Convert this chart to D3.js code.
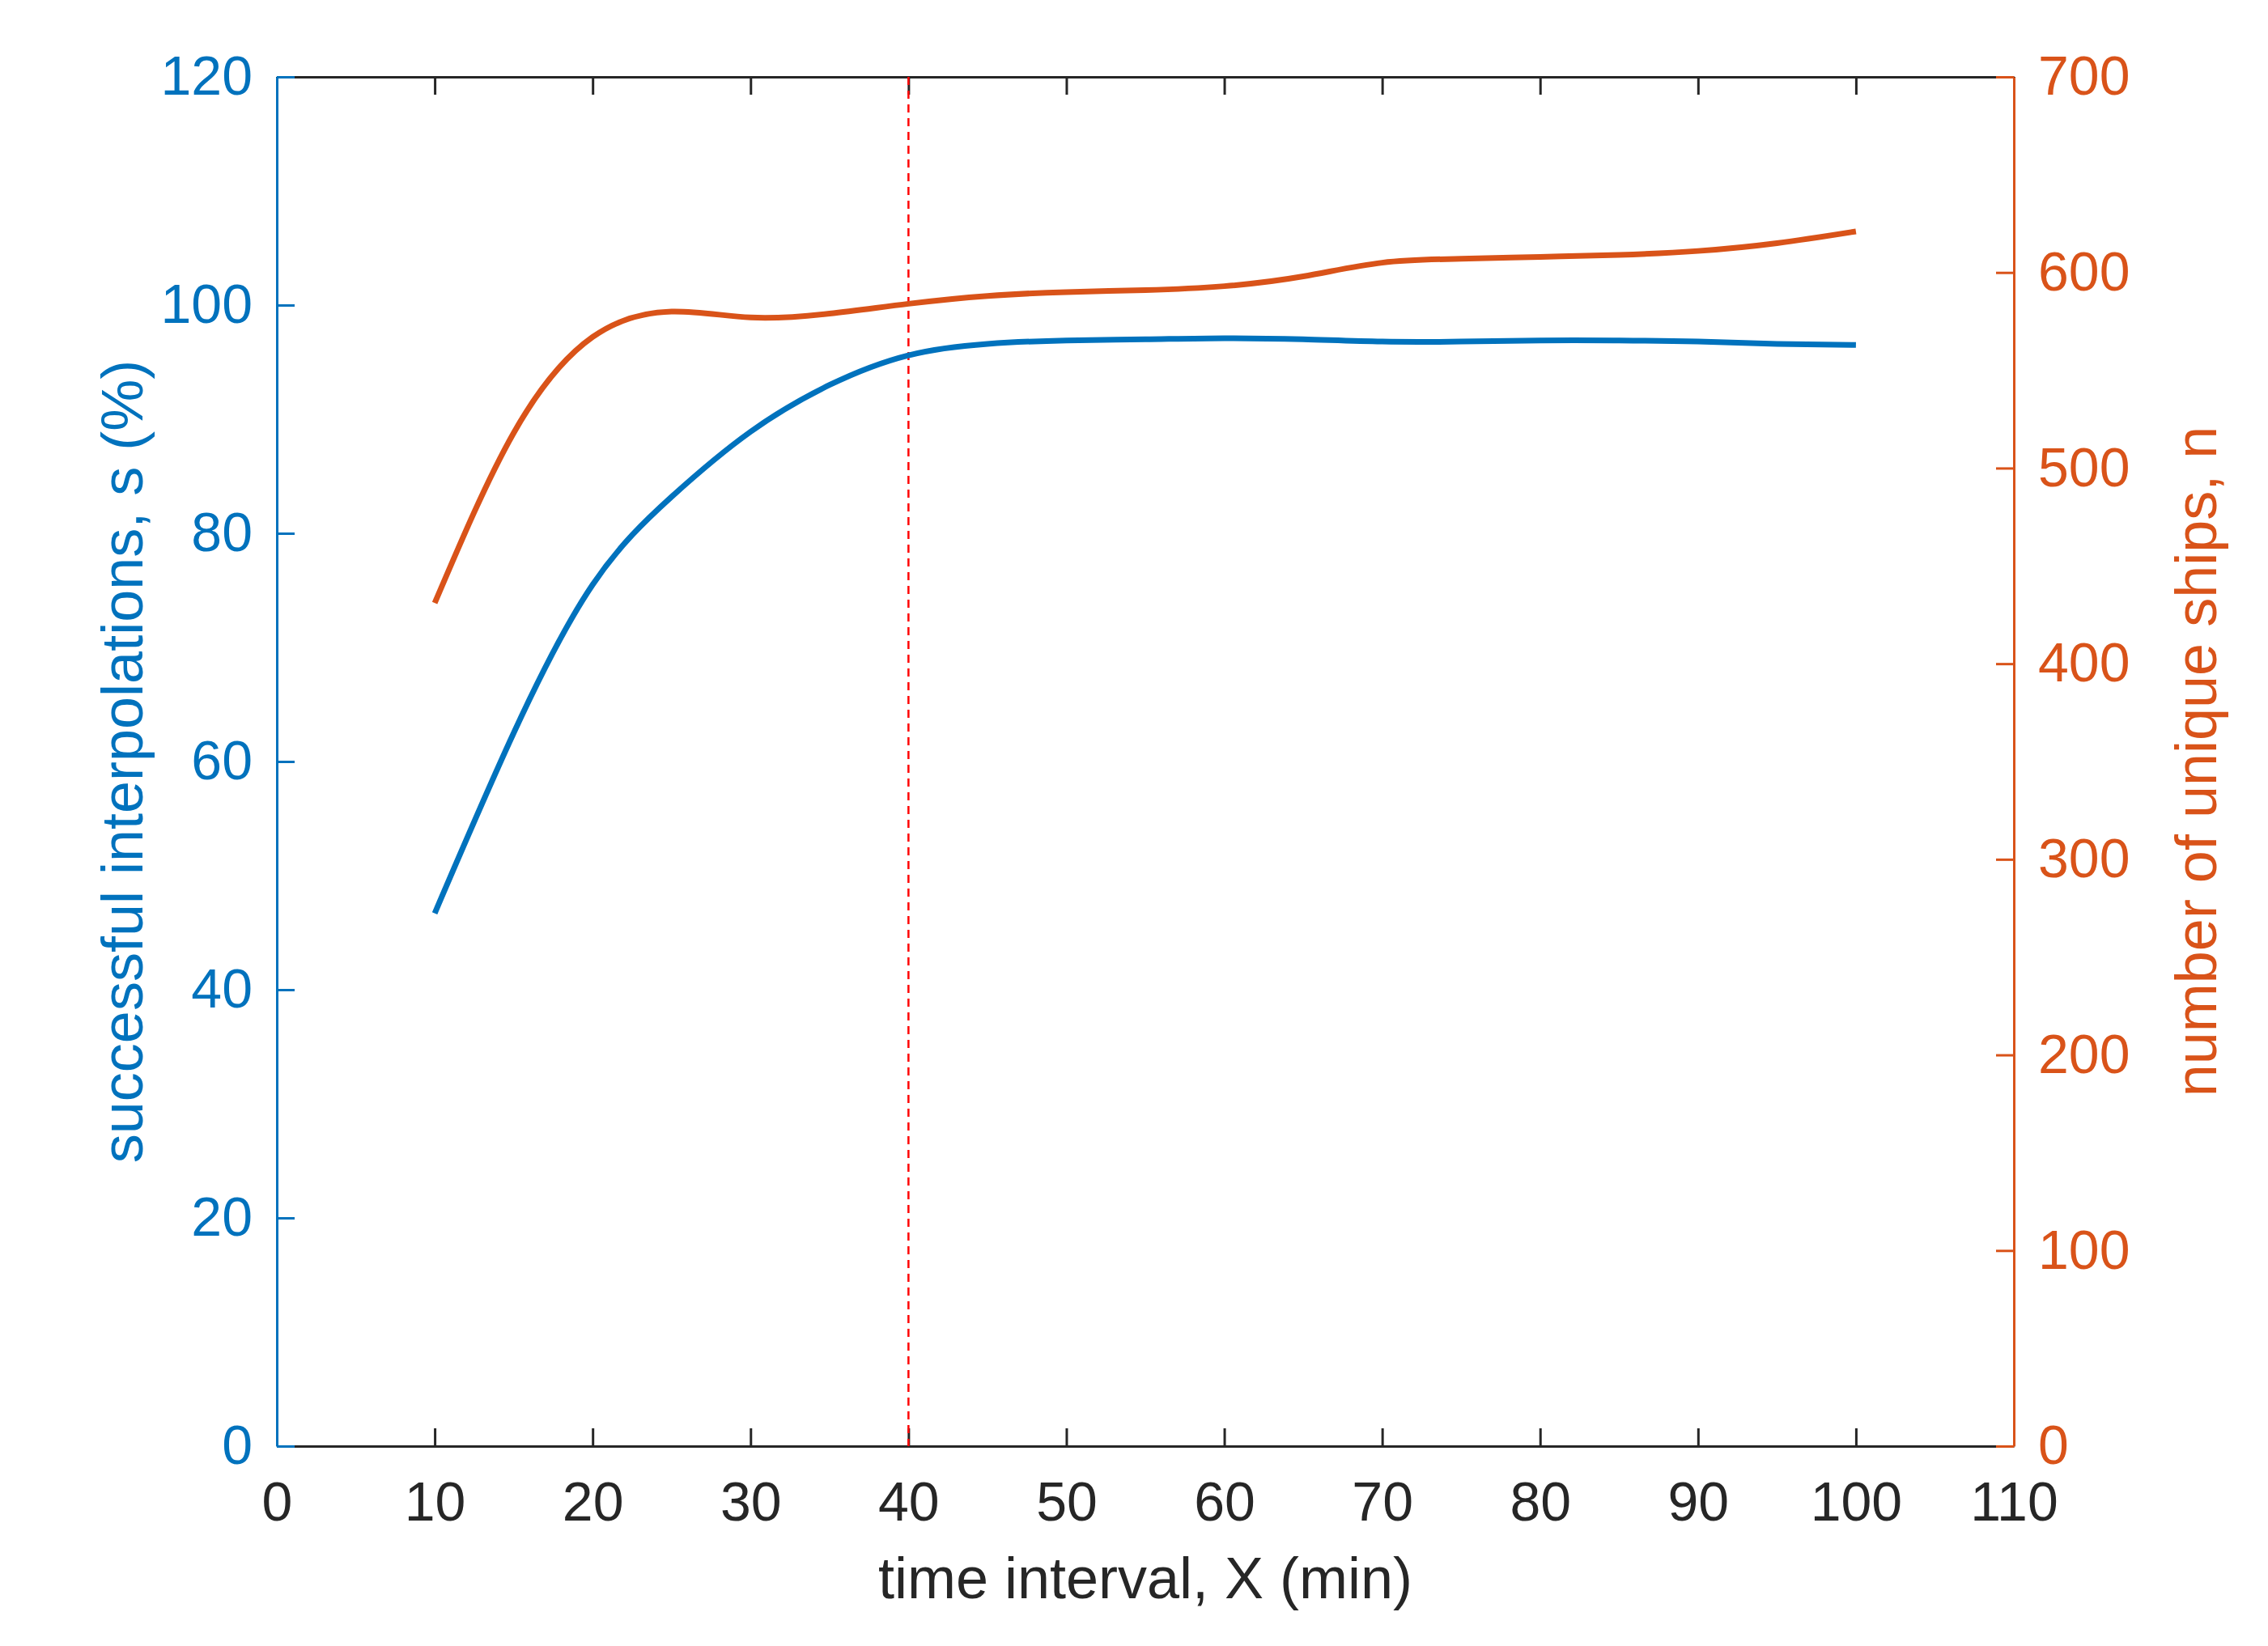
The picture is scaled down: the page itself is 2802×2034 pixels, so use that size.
<!DOCTYPE html><html><head><meta charset="utf-8"><script src="https://cdn.jsdelivr.net/npm/d3@7"></script>
<style>body{margin:0;background:#fff}</style></head><body><svg id="c" width="2802" height="2034"></svg><script>
const xVals=[10,15,20,25,30,35,40,45,50,55,60,65,70,75,80,85,90,95,100];
const successPct=[46.7,62.5,75.5,83.2,88.9,93,95.6,96.6,96.9,97,97.1,97,96.8,96.8,96.9,96.9,96.8,96.6,96.5];
const uniqueShips=[431,518,567,580,577,579,584,588,590,591,593,598,605,607,608,609,611,615,621];
const xTicks=d3.range(0,111,10), yLTicks=d3.range(0,121,20), yRTicks=d3.range(0,701,100);
const B="#0072BD",O="#D95319",K="#262626",F="'Liberation Sans',Arial,sans-serif";
const L=342,R=2488,T=95,Bt=1787;
const svg=d3.select("#c");
const x=d3.scaleLinear().domain([0,110]).range([L,R]);
const yl=d3.scaleLinear().domain([0,120]).range([Bt,T]);
const yr=d3.scaleLinear().domain([0,700]).range([Bt,T]);
function style(g,c){g.selectAll("text").attr("font-family",F).attr("font-size",68).attr("fill",c);
 g.selectAll("line").attr("stroke",c).attr("stroke-width",3);g.select(".domain").attr("stroke",c).attr("stroke-width",3);}
let g=svg.append("g").attr("transform",`translate(0,${Bt})`).call(d3.axisBottom(x).tickValues(xTicks).tickSize(-22).tickSizeOuter(0).tickPadding(44));style(g,K);
g=svg.append("g").attr("transform",`translate(0,${T})`).call(d3.axisTop(x).tickValues(xTicks).tickSize(-22).tickSizeOuter(0).tickFormat(""));style(g,K);
g=svg.append("g").attr("transform",`translate(${L},0)`).call(d3.axisLeft(yl).tickValues(yLTicks).tickSize(-22).tickSizeOuter(0).tickPadding(30));style(g,B);
g=svg.append("g").attr("transform",`translate(${R},0)`).call(d3.axisRight(yr).tickValues(yRTicks).tickSize(-22).tickSizeOuter(0).tickPadding(30));style(g,O);
svg.append("line").attr("x1",x(40)).attr("x2",x(40)).attr("y1",T).attr("y2",Bt).attr("stroke","#ff0000").attr("stroke-width",2.5).attr("stroke-dasharray","10,7");
const lb=d3.line().x((d,i)=>x(xVals[i])).y(d=>yl(d)).curve(d3.curveNatural);
const lo=d3.line().x((d,i)=>x(xVals[i])).y(d=>yr(d)).curve(d3.curveNatural);
svg.append("path").attr("d",lb(successPct)).attr("fill","none").attr("stroke",B).attr("stroke-width",7);
svg.append("path").attr("d",lo(uniqueShips)).attr("fill","none").attr("stroke",O).attr("stroke-width",7);
svg.append("text").attr("x",(L+R)/2).attr("y",1975).attr("text-anchor","middle").attr("font-family",F).attr("font-size",72).attr("fill",K).text("time interval, X (min)");
svg.append("text").attr("transform",`translate(176,${(T+Bt)/2}) rotate(-90)`).attr("text-anchor","middle").attr("font-family",F).attr("font-size",72).attr("fill",B).text("successful interpolations, s (%)");
svg.append("text").attr("transform",`translate(2738,${(T+Bt)/2}) rotate(-90)`).attr("text-anchor","middle").attr("font-family",F).attr("font-size",72).attr("fill",O).text("number of unique ships, n");
</script></body></html>
